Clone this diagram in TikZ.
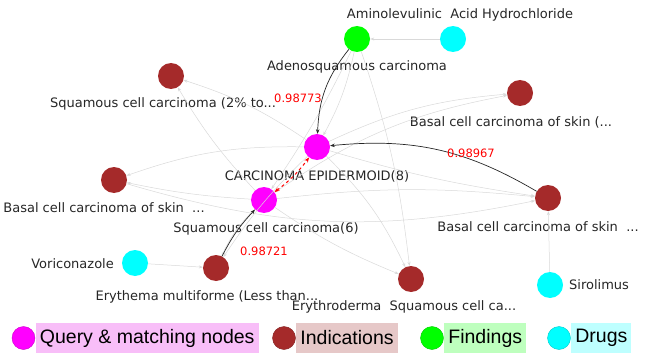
\documentclass[tikz,border=0pt]{standalone}
\usepackage{fontspec}
\setmainfont{DejaVu Sans}
\newfontfamily\legendfont{Liberation Sans}
\usetikzlibrary{arrows.meta, positioning}

\definecolor{qcol}{HTML}{FF00FF}
\definecolor{icol}{HTML}{A52A2A}
\definecolor{fcol}{HTML}{00FF00}
\definecolor{dcol}{HTML}{00FFFF}
\definecolor{qbox}{HTML}{F8BEF8}
\definecolor{ibox}{HTML}{E6C8C8}
\definecolor{fbox}{HTML}{BEFFBE}
\definecolor{dbox}{HTML}{BEFFFF}
\definecolor{edgegray}{HTML}{D9D9D9}

\begin{document}
\begin{tikzpicture}[
    x=1pt, y=-1pt, >=Stealth,
    vtx/.style={circle, minimum size=26pt, inner sep=0pt},
    query/.style={vtx, fill=qcol},
    indic/.style={vtx, fill=icol},
    finding/.style={vtx, fill=fcol},
    drug/.style={vtx, fill=dcol},
    lbl/.style={font=\fontsize{13}{15}\selectfont, text=black!85, inner sep=0pt},
    score/.style={font=\fontsize{11.5}{13}\selectfont, text=red, inner sep=0pt},
    faint/.style={draw=edgegray, line width=0.5pt,
                  -{Stealth[length=4pt, width=3pt]}},
    strong/.style={draw=black!85, line width=0.7pt,
                   -{Stealth[length=4.5pt, width=3.5pt]}},
    match/.style={draw=red, dashed, line width=1pt,
                  {Stealth[length=5pt, width=4pt]}-{Stealth[length=5pt, width=4pt]}},
    legmark/.style={circle, minimum size=23pt, inner sep=0pt, line width=0.4pt},
    legbox/.style={font=\legendfont\fontsize{19.5}{22}\selectfont,
                   minimum height=30pt, inner xsep=4pt, text=black}
  ]
  \useasboundingbox (0,0) rectangle (664,361);

  % graph nodes
  \node[finding] (adeno) at (357,39) {};
  \node[drug]    (ala)   at (453,39) {};
  \node[indic]   (scc2)  at (171,76) {};
  \node[indic]   (bccA)  at (520,93) {};
  \node[query]   (epid)  at (317,147) {};
  \node[indic]   (bccB)  at (114,180) {};
  \node[indic]   (bccC)  at (548,198) {};
  \node[query]   (scc6)  at (264,200) {};
  \node[drug]    (vori)  at (135,263) {};
  \node[indic]   (erym)  at (216,268) {};
  \node[indic]   (eryd)  at (411,279) {};
  \node[drug]    (siro)  at (550,285) {};

  % node labels
  \node[lbl] (alaL)   at (460,15)  {Aminolevulinic\ \ Acid Hydrochloride};
  \node[lbl] (adenoL) at (357,67)  {Adenosquamous carcinoma};
  \node[lbl] (scc2L)  at (163,104) {Squamous cell carcinoma (2\% to...};
  \node[lbl] (bccAL)  at (511,122) {Basal cell carcinoma of skin (...};
  \node[lbl] (epidL)  at (317,176) {CARCINOMA EPIDERMOID(8)};
  \node[lbl] (bccBL)  at (104,208) {Basal cell carcinoma of skin\ \ ...};
  \node[lbl] (bccCL)  at (538,227) {Basal cell carcinoma of skin\ \ ...};
  \node[lbl] (scc6L)  at (266,229) {Squamous cell carcinoma(6)};
  \node[lbl, anchor=east] (voriL) at (114,264) {Voriconazole};
  \node[lbl] (erymL)  at (207,297) {Erythema multiforme (Less than...};
  \node[lbl] (erydL)  at (404,307) {Erythroderma\ \ Squamous cell ca...};
  \node[lbl, anchor=west] (siroL) at (569,285) {Sirolimus};

  % faint edges
  \draw[faint] (epid) to[bend right=8] (scc2);
  \draw[faint] (scc6) to[bend left=6] (scc2);
  \draw[faint] (epid) to[bend right=10] (bccB);
  \draw[faint] (scc6) to[bend left=4] (bccB);
  \draw[faint] (epid) to[bend left=10] (bccA);
  \draw[faint] (scc6) to[bend left=12] (bccA);
  \draw[faint] (epid) to[bend right=4] (bccC);
  \draw[faint] (scc6) to[bend left=6] (bccC);
  \draw[faint] (bccB) to[bend right=14] (bccC);
  \draw[faint] (epid) to[bend left=10] (eryd);
  \draw[faint] (scc6) to[bend right=6] (eryd);
  \draw[faint] (epid) to[bend right=6] (erym);
  \draw[faint] (scc6) to[bend right=10] (erym);
  \draw[faint] (adeno) to[bend left=8] (epid);
  \draw[faint] (adeno) to[bend left=4] (scc6);
  \draw[faint] (adeno) to[bend left=6] (eryd);
  \draw[faint] (ala) -- (adeno);
  \draw[faint] (vori) -- (erym);
  \draw[faint] (siro) -- (bccC);

  % similarity edges
  \draw[strong] (adeno) to[bend right=18] (epid);
  \draw[strong] (bccC) to[bend right=18] (epid);
  \draw[strong] (erym) to[bend left=8] (scc6);
  \draw[match] (scc6) to[bend right=8] (epid);

  \node[score] (s1) at (298,98)  {0.98773};
  \node[score] (s2) at (471,153) {0.98967};
  \node[score] (s3) at (264,251) {0.98721};

  % legend
  \node[legmark, fill=qcol, draw=qcol!80!black] (legQ) at (23.5,338) {};
  \node[legbox, fill=qbox, right=0.5pt of legQ] (legQt) {Query \& matching nodes};
  \node[legmark, fill=icol, draw=icol!80!black] (legI) at (284,338) {};
  \node[legbox, fill=ibox, right=0.5pt of legI] (legIt) {Indications};
  \node[legmark, fill=fcol, draw=fcol!80!black] (legF) at (432,338) {};
  \node[legbox, fill=fbox, right=0.5pt of legF] (legFt) {Findings};
  \node[legmark, fill=dcol, draw=dcol!80!black] (legD) at (559,338) {};
  \node[legbox, fill=dbox, right=0.5pt of legD] (legDt) {Drugs};
\end{tikzpicture}
\end{document}
